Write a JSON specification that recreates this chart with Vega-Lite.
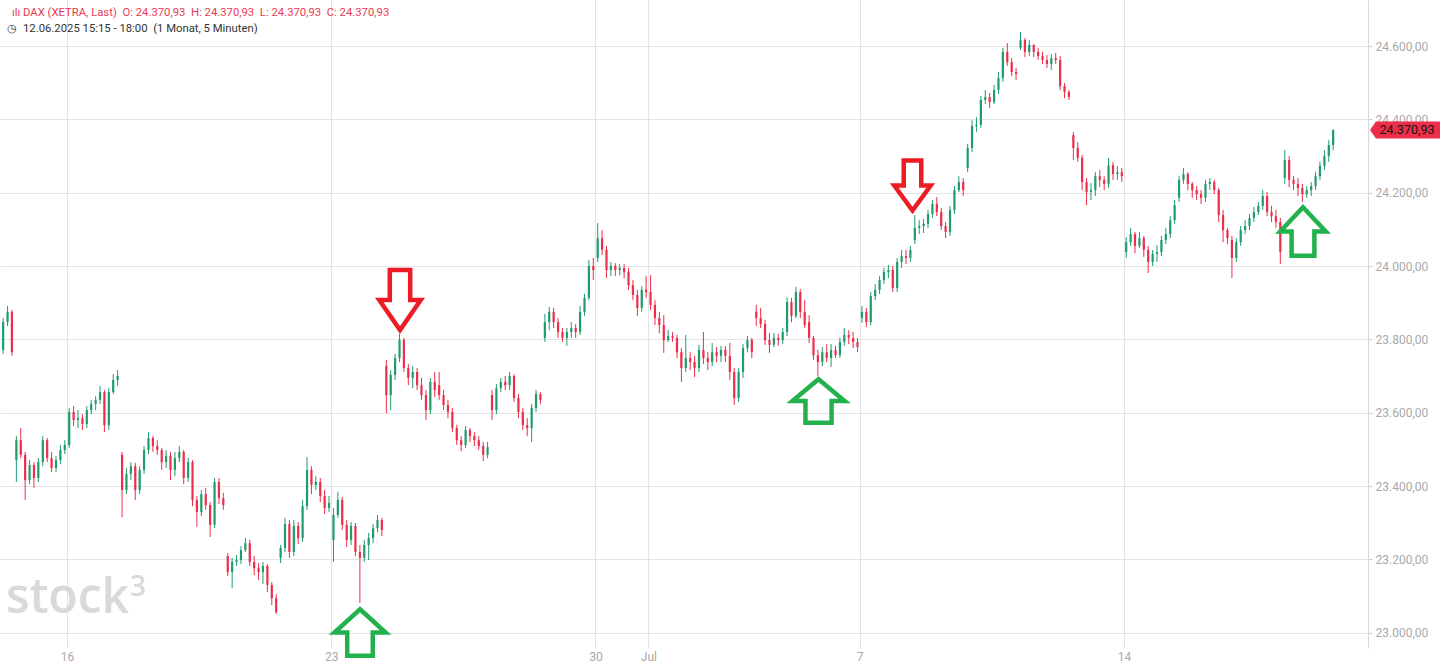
{
  "$schema": "https://vega.github.io/schema/vega-lite/v6.json",
  "width": 1368,
  "height": 648,
  "autosize": {"type": "none"},
  "padding": {"left": 0, "top": 0, "right": 72, "bottom": 19},
  "background": "white",
  "config": {"view": {"stroke": null}, "font": "Roboto"},
  "datasets": {
    "candles": [
      {"t":-1.292,"o":23755,"h":23782,"l":23749,"c":23771},
      {"t":-1.208,"o":23771,"h":23858,"l":23760,"c":23847},
      {"t":-1.125,"o":23847,"h":23891,"l":23836,"c":23875},
      {"t":-1.042,"o":23875,"h":23880,"l":23755,"c":23765},
      {"t":-0.958,"o":23471,"h":23536,"l":23411,"c":23525},
      {"t":-0.875,"o":23525,"h":23558,"l":23476,"c":23485},
      {"t":-0.792,"o":23485,"h":23493,"l":23362,"c":23416},
      {"t":-0.708,"o":23416,"h":23471,"l":23405,"c":23457},
      {"t":-0.625,"o":23457,"h":23465,"l":23395,"c":23422},
      {"t":-0.542,"o":23422,"h":23476,"l":23411,"c":23465},
      {"t":-0.458,"o":23465,"h":23536,"l":23454,"c":23525},
      {"t":-0.375,"o":23525,"h":23531,"l":23465,"c":23476},
      {"t":-0.292,"o":23476,"h":23493,"l":23438,"c":23449},
      {"t":-0.208,"o":23449,"h":23482,"l":23438,"c":23471},
      {"t":-0.125,"o":23471,"h":23512,"l":23460,"c":23498},
      {"t":-0.042,"o":23498,"h":23525,"l":23487,"c":23512},
      {"t":0.042,"o":23512,"h":23613,"l":23504,"c":23602},
      {"t":0.125,"o":23602,"h":23618,"l":23564,"c":23580},
      {"t":0.208,"o":23580,"h":23607,"l":23558,"c":23585},
      {"t":0.292,"o":23585,"h":23596,"l":23553,"c":23569},
      {"t":0.375,"o":23569,"h":23618,"l":23558,"c":23607},
      {"t":0.458,"o":23607,"h":23635,"l":23596,"c":23624},
      {"t":0.542,"o":23624,"h":23645,"l":23607,"c":23635},
      {"t":0.625,"o":23635,"h":23673,"l":23624,"c":23656},
      {"t":0.708,"o":23656,"h":23662,"l":23547,"c":23566},
      {"t":0.792,"o":23566,"h":23667,"l":23553,"c":23656},
      {"t":0.875,"o":23656,"h":23705,"l":23651,"c":23689},
      {"t":0.958,"o":23689,"h":23716,"l":23673,"c":23700},
      {"t":1.042,"o":23485,"h":23493,"l":23315,"c":23389},
      {"t":1.125,"o":23389,"h":23449,"l":23378,"c":23433},
      {"t":1.208,"o":23433,"h":23465,"l":23416,"c":23454},
      {"t":1.292,"o":23454,"h":23463,"l":23362,"c":23389},
      {"t":1.375,"o":23389,"h":23454,"l":23378,"c":23444},
      {"t":1.458,"o":23444,"h":23509,"l":23433,"c":23498},
      {"t":1.542,"o":23498,"h":23547,"l":23487,"c":23531},
      {"t":1.625,"o":23531,"h":23536,"l":23493,"c":23509},
      {"t":1.708,"o":23509,"h":23525,"l":23485,"c":23498},
      {"t":1.792,"o":23498,"h":23504,"l":23444,"c":23465},
      {"t":1.875,"o":23465,"h":23498,"l":23449,"c":23482},
      {"t":1.958,"o":23482,"h":23493,"l":23416,"c":23444},
      {"t":2.042,"o":23444,"h":23493,"l":23427,"c":23476},
      {"t":2.125,"o":23476,"h":23509,"l":23465,"c":23493},
      {"t":2.208,"o":23493,"h":23498,"l":23405,"c":23422},
      {"t":2.292,"o":23422,"h":23476,"l":23411,"c":23465},
      {"t":2.375,"o":23465,"h":23471,"l":23345,"c":23362},
      {"t":2.458,"o":23362,"h":23373,"l":23288,"c":23329},
      {"t":2.542,"o":23329,"h":23389,"l":23318,"c":23378},
      {"t":2.625,"o":23378,"h":23395,"l":23335,"c":23348},
      {"t":2.708,"o":23348,"h":23356,"l":23261,"c":23294},
      {"t":2.792,"o":23294,"h":23422,"l":23285,"c":23411},
      {"t":2.875,"o":23411,"h":23422,"l":23351,"c":23367},
      {"t":2.958,"o":23367,"h":23381,"l":23335,"c":23348},
      {"t":3.042,"o":23209,"h":23217,"l":23154,"c":23165},
      {"t":3.125,"o":23165,"h":23204,"l":23122,"c":23193},
      {"t":3.208,"o":23193,"h":23212,"l":23182,"c":23198},
      {"t":3.292,"o":23198,"h":23236,"l":23187,"c":23225},
      {"t":3.375,"o":23225,"h":23258,"l":23220,"c":23244},
      {"t":3.458,"o":23244,"h":23253,"l":23182,"c":23193},
      {"t":3.542,"o":23193,"h":23209,"l":23157,"c":23176},
      {"t":3.625,"o":23176,"h":23190,"l":23144,"c":23165},
      {"t":3.708,"o":23165,"h":23193,"l":23133,"c":23182},
      {"t":3.792,"o":23182,"h":23187,"l":23111,"c":23130},
      {"t":3.875,"o":23130,"h":23138,"l":23075,"c":23094},
      {"t":3.958,"o":23094,"h":23105,"l":23051,"c":23056},
      {"t":4.042,"o":23204,"h":23239,"l":23190,"c":23231},
      {"t":4.125,"o":23231,"h":23313,"l":23220,"c":23296},
      {"t":4.208,"o":23296,"h":23307,"l":23204,"c":23220},
      {"t":4.292,"o":23220,"h":23307,"l":23209,"c":23291},
      {"t":4.375,"o":23291,"h":23302,"l":23242,"c":23258},
      {"t":4.458,"o":23258,"h":23362,"l":23247,"c":23345},
      {"t":4.542,"o":23345,"h":23479,"l":23335,"c":23444},
      {"t":4.625,"o":23444,"h":23454,"l":23378,"c":23403},
      {"t":4.708,"o":23403,"h":23427,"l":23389,"c":23411},
      {"t":4.792,"o":23411,"h":23422,"l":23356,"c":23373},
      {"t":4.875,"o":23373,"h":23389,"l":23324,"c":23340},
      {"t":4.958,"o":23340,"h":23373,"l":23329,"c":23354},
      {"t":5.042,"o":23253,"h":23340,"l":23193,"c":23321},
      {"t":5.125,"o":23321,"h":23384,"l":23313,"c":23362},
      {"t":5.208,"o":23362,"h":23370,"l":23280,"c":23294},
      {"t":5.292,"o":23294,"h":23307,"l":23234,"c":23253},
      {"t":5.375,"o":23253,"h":23302,"l":23239,"c":23291},
      {"t":5.458,"o":23291,"h":23299,"l":23209,"c":23220},
      {"t":5.542,"o":23220,"h":23239,"l":23081,"c":23204},
      {"t":5.625,"o":23204,"h":23253,"l":23193,"c":23239},
      {"t":5.708,"o":23239,"h":23272,"l":23198,"c":23258},
      {"t":5.792,"o":23258,"h":23296,"l":23244,"c":23285},
      {"t":5.875,"o":23285,"h":23321,"l":23274,"c":23307},
      {"t":5.958,"o":23307,"h":23313,"l":23263,"c":23280},
      {"t":6.042,"o":23727,"h":23744,"l":23599,"c":23648},
      {"t":6.125,"o":23648,"h":23716,"l":23607,"c":23703},
      {"t":6.208,"o":23703,"h":23760,"l":23689,"c":23749},
      {"t":6.292,"o":23749,"h":23815,"l":23738,"c":23798},
      {"t":6.375,"o":23798,"h":23804,"l":23711,"c":23722},
      {"t":6.458,"o":23722,"h":23733,"l":23675,"c":23695},
      {"t":6.542,"o":23695,"h":23727,"l":23667,"c":23711},
      {"t":6.625,"o":23711,"h":23722,"l":23662,"c":23675},
      {"t":6.708,"o":23675,"h":23695,"l":23635,"c":23648},
      {"t":6.792,"o":23648,"h":23662,"l":23580,"c":23607},
      {"t":6.875,"o":23607,"h":23695,"l":23596,"c":23684},
      {"t":6.958,"o":23684,"h":23711,"l":23643,"c":23662},
      {"t":7.042,"o":23675,"h":23711,"l":23635,"c":23648},
      {"t":7.125,"o":23648,"h":23662,"l":23607,"c":23621},
      {"t":7.208,"o":23621,"h":23635,"l":23585,"c":23602},
      {"t":7.292,"o":23602,"h":23613,"l":23547,"c":23558},
      {"t":7.375,"o":23558,"h":23566,"l":23512,"c":23525},
      {"t":7.458,"o":23525,"h":23536,"l":23495,"c":23512},
      {"t":7.542,"o":23512,"h":23564,"l":23504,"c":23553},
      {"t":7.625,"o":23553,"h":23558,"l":23520,"c":23536},
      {"t":7.708,"o":23536,"h":23547,"l":23509,"c":23525},
      {"t":7.792,"o":23525,"h":23536,"l":23498,"c":23509},
      {"t":7.875,"o":23509,"h":23520,"l":23468,"c":23485},
      {"t":7.958,"o":23485,"h":23520,"l":23476,"c":23506},
      {"t":8.042,"o":23648,"h":23662,"l":23580,"c":23607},
      {"t":8.125,"o":23607,"h":23678,"l":23596,"c":23667},
      {"t":8.208,"o":23667,"h":23695,"l":23656,"c":23684},
      {"t":8.292,"o":23684,"h":23700,"l":23662,"c":23675},
      {"t":8.375,"o":23675,"h":23711,"l":23662,"c":23700},
      {"t":8.458,"o":23700,"h":23705,"l":23629,"c":23640},
      {"t":8.542,"o":23640,"h":23651,"l":23585,"c":23602},
      {"t":8.625,"o":23602,"h":23613,"l":23553,"c":23566},
      {"t":8.708,"o":23566,"h":23585,"l":23536,"c":23558},
      {"t":8.792,"o":23558,"h":23624,"l":23520,"c":23613},
      {"t":8.875,"o":23613,"h":23662,"l":23602,"c":23651},
      {"t":8.958,"o":23651,"h":23656,"l":23624,"c":23635},
      {"t":9.042,"o":23804,"h":23869,"l":23793,"c":23847},
      {"t":9.125,"o":23847,"h":23888,"l":23825,"c":23875},
      {"t":9.208,"o":23875,"h":23886,"l":23831,"c":23847},
      {"t":9.292,"o":23847,"h":23858,"l":23804,"c":23820},
      {"t":9.375,"o":23820,"h":23831,"l":23793,"c":23804},
      {"t":9.458,"o":23804,"h":23831,"l":23782,"c":23820},
      {"t":9.542,"o":23820,"h":23847,"l":23804,"c":23831},
      {"t":9.625,"o":23831,"h":23842,"l":23804,"c":23820},
      {"t":9.708,"o":23820,"h":23891,"l":23812,"c":23875},
      {"t":9.792,"o":23875,"h":23924,"l":23864,"c":23913},
      {"t":9.875,"o":23913,"h":24016,"l":23907,"c":24000},
      {"t":9.958,"o":24000,"h":24022,"l":23962,"c":23989},
      {"t":10.042,"o":24022,"h":24117,"l":24011,"c":24076},
      {"t":10.125,"o":24076,"h":24098,"l":24030,"c":24044},
      {"t":10.208,"o":24044,"h":24055,"l":23967,"c":23989},
      {"t":10.292,"o":23989,"h":24011,"l":23973,"c":24000},
      {"t":10.375,"o":24000,"h":24008,"l":23973,"c":23989},
      {"t":10.458,"o":23989,"h":24005,"l":23975,"c":23995},
      {"t":10.542,"o":23995,"h":24005,"l":23967,"c":23984},
      {"t":10.625,"o":23984,"h":23995,"l":23935,"c":23948},
      {"t":10.708,"o":23948,"h":23962,"l":23907,"c":23921},
      {"t":10.792,"o":23921,"h":23935,"l":23864,"c":23886},
      {"t":10.875,"o":23886,"h":23945,"l":23875,"c":23935},
      {"t":10.958,"o":23935,"h":23973,"l":23913,"c":23929},
      {"t":11.042,"o":23929,"h":23975,"l":23880,"c":23894},
      {"t":11.125,"o":23894,"h":23907,"l":23839,"c":23858},
      {"t":11.208,"o":23858,"h":23875,"l":23817,"c":23839},
      {"t":11.292,"o":23839,"h":23866,"l":23763,"c":23798},
      {"t":11.375,"o":23798,"h":23825,"l":23793,"c":23809},
      {"t":11.458,"o":23809,"h":23820,"l":23793,"c":23804},
      {"t":11.542,"o":23804,"h":23812,"l":23749,"c":23765},
      {"t":11.625,"o":23765,"h":23776,"l":23684,"c":23722},
      {"t":11.708,"o":23722,"h":23812,"l":23711,"c":23749},
      {"t":11.792,"o":23749,"h":23765,"l":23716,"c":23738},
      {"t":11.875,"o":23738,"h":23755,"l":23697,"c":23722},
      {"t":11.958,"o":23722,"h":23785,"l":23711,"c":23771},
      {"t":12.042,"o":23771,"h":23820,"l":23733,"c":23749},
      {"t":12.125,"o":23749,"h":23765,"l":23716,"c":23738},
      {"t":12.208,"o":23738,"h":23790,"l":23727,"c":23765},
      {"t":12.292,"o":23765,"h":23779,"l":23738,"c":23755},
      {"t":12.375,"o":23755,"h":23782,"l":23738,"c":23771},
      {"t":12.458,"o":23771,"h":23782,"l":23738,"c":23755},
      {"t":12.542,"o":23755,"h":23790,"l":23689,"c":23711},
      {"t":12.625,"o":23711,"h":23722,"l":23621,"c":23640},
      {"t":12.708,"o":23640,"h":23722,"l":23629,"c":23711},
      {"t":12.792,"o":23711,"h":23787,"l":23695,"c":23776},
      {"t":12.875,"o":23776,"h":23809,"l":23765,"c":23798},
      {"t":12.958,"o":23798,"h":23804,"l":23749,"c":23765},
      {"t":13.042,"o":23875,"h":23894,"l":23836,"c":23858},
      {"t":13.125,"o":23858,"h":23886,"l":23831,"c":23842},
      {"t":13.208,"o":23842,"h":23853,"l":23785,"c":23798},
      {"t":13.292,"o":23798,"h":23817,"l":23763,"c":23785},
      {"t":13.375,"o":23785,"h":23817,"l":23779,"c":23804},
      {"t":13.458,"o":23804,"h":23815,"l":23782,"c":23798},
      {"t":13.542,"o":23798,"h":23831,"l":23787,"c":23820},
      {"t":13.625,"o":23820,"h":23915,"l":23809,"c":23902},
      {"t":13.708,"o":23902,"h":23913,"l":23847,"c":23864},
      {"t":13.792,"o":23864,"h":23943,"l":23858,"c":23929},
      {"t":13.875,"o":23929,"h":23937,"l":23858,"c":23875},
      {"t":13.958,"o":23875,"h":23907,"l":23831,"c":23839},
      {"t":14.042,"o":23847,"h":23866,"l":23790,"c":23804},
      {"t":14.125,"o":23804,"h":23809,"l":23744,"c":23757},
      {"t":14.208,"o":23757,"h":23771,"l":23700,"c":23738},
      {"t":14.292,"o":23738,"h":23779,"l":23727,"c":23765},
      {"t":14.375,"o":23765,"h":23787,"l":23738,"c":23749},
      {"t":14.458,"o":23749,"h":23787,"l":23725,"c":23771},
      {"t":14.542,"o":23771,"h":23782,"l":23749,"c":23757},
      {"t":14.625,"o":23757,"h":23804,"l":23749,"c":23793},
      {"t":14.708,"o":23793,"h":23831,"l":23782,"c":23812},
      {"t":14.792,"o":23812,"h":23825,"l":23787,"c":23804},
      {"t":14.875,"o":23804,"h":23820,"l":23776,"c":23793},
      {"t":14.958,"o":23793,"h":23804,"l":23765,"c":23779},
      {"t":15.042,"o":23858,"h":23891,"l":23845,"c":23875},
      {"t":15.125,"o":23875,"h":23886,"l":23834,"c":23847},
      {"t":15.208,"o":23847,"h":23929,"l":23839,"c":23918},
      {"t":15.292,"o":23918,"h":23951,"l":23907,"c":23935},
      {"t":15.375,"o":23935,"h":23973,"l":23924,"c":23962},
      {"t":15.458,"o":23962,"h":23995,"l":23951,"c":23984},
      {"t":15.542,"o":23984,"h":24003,"l":23967,"c":23989},
      {"t":15.625,"o":23989,"h":24000,"l":23929,"c":23940},
      {"t":15.708,"o":23940,"h":24022,"l":23929,"c":24011},
      {"t":15.792,"o":24011,"h":24044,"l":23995,"c":24027},
      {"t":15.875,"o":24027,"h":24044,"l":24005,"c":24022},
      {"t":15.958,"o":24022,"h":24055,"l":24011,"c":24044},
      {"t":16.042,"o":24071,"h":24139,"l":24060,"c":24104},
      {"t":16.125,"o":24104,"h":24125,"l":24087,"c":24109},
      {"t":16.208,"o":24109,"h":24128,"l":24090,"c":24115},
      {"t":16.292,"o":24115,"h":24153,"l":24104,"c":24142},
      {"t":16.375,"o":24142,"h":24180,"l":24131,"c":24169},
      {"t":16.458,"o":24169,"h":24188,"l":24136,"c":24147},
      {"t":16.542,"o":24147,"h":24158,"l":24098,"c":24109},
      {"t":16.625,"o":24109,"h":24120,"l":24076,"c":24093},
      {"t":16.708,"o":24093,"h":24164,"l":24082,"c":24153},
      {"t":16.792,"o":24153,"h":24218,"l":24142,"c":24207},
      {"t":16.875,"o":24207,"h":24245,"l":24202,"c":24229},
      {"t":16.958,"o":24229,"h":24240,"l":24191,"c":24207},
      {"t":17.042,"o":24267,"h":24333,"l":24256,"c":24322},
      {"t":17.125,"o":24322,"h":24398,"l":24311,"c":24382},
      {"t":17.208,"o":24382,"h":24406,"l":24365,"c":24385},
      {"t":17.292,"o":24385,"h":24464,"l":24376,"c":24453},
      {"t":17.375,"o":24453,"h":24480,"l":24442,"c":24461},
      {"t":17.458,"o":24461,"h":24472,"l":24431,"c":24447},
      {"t":17.542,"o":24447,"h":24494,"l":24442,"c":24480},
      {"t":17.625,"o":24480,"h":24529,"l":24469,"c":24513},
      {"t":17.708,"o":24513,"h":24595,"l":24502,"c":24584},
      {"t":17.792,"o":24584,"h":24608,"l":24546,"c":24556},
      {"t":17.875,"o":24556,"h":24567,"l":24518,"c":24529},
      {"t":17.958,"o":24529,"h":24540,"l":24507,"c":24524},
      {"t":18.042,"o":24595,"h":24638,"l":24589,"c":24616},
      {"t":18.125,"o":24616,"h":24622,"l":24570,"c":24584},
      {"t":18.208,"o":24584,"h":24616,"l":24573,"c":24603},
      {"t":18.292,"o":24603,"h":24605,"l":24570,"c":24584},
      {"t":18.375,"o":24584,"h":24595,"l":24562,"c":24573},
      {"t":18.458,"o":24573,"h":24584,"l":24551,"c":24562},
      {"t":18.542,"o":24562,"h":24575,"l":24540,"c":24551},
      {"t":18.625,"o":24551,"h":24578,"l":24535,"c":24567},
      {"t":18.708,"o":24567,"h":24581,"l":24551,"c":24562},
      {"t":18.792,"o":24562,"h":24573,"l":24480,"c":24491},
      {"t":18.875,"o":24491,"h":24499,"l":24458,"c":24475},
      {"t":18.958,"o":24475,"h":24480,"l":24453,"c":24461},
      {"t":19.042,"o":24357,"h":24365,"l":24289,"c":24322},
      {"t":19.125,"o":24322,"h":24338,"l":24284,"c":24295},
      {"t":19.208,"o":24295,"h":24303,"l":24207,"c":24229},
      {"t":19.292,"o":24229,"h":24240,"l":24166,"c":24202},
      {"t":19.375,"o":24202,"h":24226,"l":24180,"c":24207},
      {"t":19.458,"o":24207,"h":24256,"l":24191,"c":24245},
      {"t":19.542,"o":24245,"h":24262,"l":24215,"c":24235},
      {"t":19.625,"o":24235,"h":24245,"l":24207,"c":24224},
      {"t":19.708,"o":24224,"h":24295,"l":24213,"c":24275},
      {"t":19.792,"o":24275,"h":24284,"l":24235,"c":24251},
      {"t":19.875,"o":24251,"h":24273,"l":24235,"c":24256},
      {"t":19.958,"o":24256,"h":24267,"l":24229,"c":24245},
      {"t":20.042,"o":24038,"h":24079,"l":24022,"c":24065},
      {"t":20.125,"o":24065,"h":24104,"l":24055,"c":24087},
      {"t":20.208,"o":24087,"h":24093,"l":24035,"c":24055},
      {"t":20.292,"o":24055,"h":24093,"l":24049,"c":24076},
      {"t":20.375,"o":24076,"h":24082,"l":24025,"c":24044},
      {"t":20.458,"o":24044,"h":24055,"l":23981,"c":24011},
      {"t":20.542,"o":24011,"h":24044,"l":24000,"c":24033},
      {"t":20.625,"o":24033,"h":24057,"l":24011,"c":24038},
      {"t":20.708,"o":24038,"h":24082,"l":24027,"c":24071},
      {"t":20.792,"o":24071,"h":24104,"l":24060,"c":24087},
      {"t":20.875,"o":24087,"h":24136,"l":24076,"c":24125},
      {"t":20.958,"o":24125,"h":24180,"l":24115,"c":24166},
      {"t":21.042,"o":24186,"h":24245,"l":24175,"c":24235},
      {"t":21.125,"o":24235,"h":24267,"l":24224,"c":24251},
      {"t":21.208,"o":24251,"h":24256,"l":24207,"c":24224},
      {"t":21.292,"o":24224,"h":24229,"l":24186,"c":24207},
      {"t":21.375,"o":24207,"h":24218,"l":24180,"c":24196},
      {"t":21.458,"o":24196,"h":24207,"l":24169,"c":24186},
      {"t":21.542,"o":24186,"h":24235,"l":24175,"c":24224},
      {"t":21.625,"o":24224,"h":24240,"l":24207,"c":24229},
      {"t":21.708,"o":24229,"h":24235,"l":24196,"c":24207},
      {"t":21.792,"o":24207,"h":24213,"l":24120,"c":24139},
      {"t":21.875,"o":24139,"h":24153,"l":24065,"c":24098},
      {"t":21.958,"o":24098,"h":24104,"l":24060,"c":24076},
      {"t":22.042,"o":24071,"h":24082,"l":23967,"c":24022},
      {"t":22.125,"o":24022,"h":24076,"l":24011,"c":24065},
      {"t":22.208,"o":24065,"h":24109,"l":24055,"c":24098},
      {"t":22.292,"o":24098,"h":24125,"l":24087,"c":24109},
      {"t":22.375,"o":24109,"h":24142,"l":24098,"c":24131},
      {"t":22.458,"o":24131,"h":24161,"l":24120,"c":24147},
      {"t":22.542,"o":24147,"h":24175,"l":24139,"c":24164},
      {"t":22.625,"o":24164,"h":24207,"l":24153,"c":24191},
      {"t":22.708,"o":24191,"h":24202,"l":24136,"c":24147},
      {"t":22.792,"o":24147,"h":24164,"l":24120,"c":24136},
      {"t":22.875,"o":24136,"h":24153,"l":24104,"c":24120},
      {"t":22.958,"o":24120,"h":24131,"l":24005,"c":24038},
      {"t":23.042,"o":24240,"h":24316,"l":24224,"c":24289},
      {"t":23.125,"o":24289,"h":24300,"l":24215,"c":24235},
      {"t":23.208,"o":24235,"h":24245,"l":24207,"c":24224},
      {"t":23.292,"o":24224,"h":24240,"l":24191,"c":24213},
      {"t":23.375,"o":24213,"h":24224,"l":24175,"c":24196},
      {"t":23.458,"o":24196,"h":24218,"l":24186,"c":24207},
      {"t":23.542,"o":24207,"h":24229,"l":24191,"c":24218},
      {"t":23.625,"o":24218,"h":24256,"l":24207,"c":24245},
      {"t":23.708,"o":24245,"h":24284,"l":24235,"c":24273},
      {"t":23.792,"o":24273,"h":24316,"l":24262,"c":24300},
      {"t":23.875,"o":24300,"h":24344,"l":24284,"c":24330},
      {"t":23.958,"o":24330,"h":24373,"l":24316,"c":24370.93}
    ]
  },
  "encoding": {
    "x": {"field": "t", "type": "quantitative", "scale": {"domain": [-1.2677, 24.617], "nice": false, "zero": false},
      "axis": {"orient": "bottom", "values": [0, 5, 10, 11, 15, 20], "grid": true, "gridColor": "#e3e3e8", "gridWidth": 1, "domain": false, "ticks": false, "labelColor": "#a9a9a9", "labelFontSize": 12, "labelFont": "Roboto", "labelPadding": 3, "title": null,
        "labelExpr": "datum.value == 0 ? '16' : datum.value == 5 ? '23' : datum.value == 10 ? '30' : datum.value == 11 ? 'Jul' : datum.value == 15 ? '7' : '14'"}},
    "y": {"field": "p", "type": "quantitative", "scale": {"domain": [22958.2, 24725.5], "nice": false, "zero": false},
      "axis": {"orient": "right", "values": [23000, 23200, 23400, 23600, 23800, 24000, 24200, 24400, 24600], "grid": true, "gridColor": "#e3e3e8", "gridWidth": 1, "domain": true, "domainColor": "#d6d6de", "ticks": true, "tickSize": 4, "tickColor": "#cfcfd6", "labelColor": "#a9a9a9", "labelFontSize": 12, "labelFont": "Roboto", "labelPadding": 3, "title": null,
        "labelExpr": "replace(replace(replace(format(datum.value, ',.2f'), ',', '#'), '.', ','), '#', '.')"}}
  },
  "layer": [
    {
      "data": {"values": [{"t": -1.154, "p": 23054, "s": "stock"}]},
      "mark": {"type": "text", "align": "left", "baseline": "alphabetic", "font": "Open Sans", "fontSize": 48, "fontWeight": 600, "color": "#d9d9d9"},
      "encoding": {"text": {"field": "s"}}
    },
    {
      "data": {"values": [{"t": 1.19, "p": 23100, "s": "3"}]},
      "mark": {"type": "text", "align": "left", "baseline": "alphabetic", "font": "Open Sans", "fontSize": 28, "fontWeight": 600, "color": "#d9d9d9"},
      "encoding": {"text": {"field": "s"}}
    },
    {
      "data": {"name": "candles"},
      "mark": {"type": "rule", "strokeWidth": 1},
      "encoding": {
        "y": {"field": "l", "type": "quantitative", "scale": {"domain": [22958.2, 24725.5], "nice": false, "zero": false},
          "axis": {"orient": "right", "values": [23000, 23200, 23400, 23600, 23800, 24000, 24200, 24400, 24600], "grid": true, "gridColor": "#e3e3e8", "gridWidth": 1, "domain": true, "domainColor": "#d6d6de", "ticks": true, "tickSize": 4, "tickColor": "#cfcfd6", "labelColor": "#a9a9a9", "labelFontSize": 12, "labelFont": "Roboto", "labelPadding": 3, "title": null,
            "labelExpr": "replace(replace(replace(format(datum.value, ',.2f'), ',', '#'), '.', ','), '#', '.')"}},
        "y2": {"field": "h"},
        "color": {"condition": {"test": "datum.c >= datum.o", "value": "#1f9c6d"}, "value": "#ec2e4a"}
      }
    },
    {
      "data": {"name": "candles"},
      "mark": {"type": "rule", "strokeWidth": 2.2},
      "encoding": {
        "y": {"field": "o", "type": "quantitative", "scale": {"domain": [22958.2, 24725.5], "nice": false, "zero": false},
          "axis": {"orient": "right", "values": [23000, 23200, 23400, 23600, 23800, 24000, 24200, 24400, 24600], "grid": true, "gridColor": "#e3e3e8", "gridWidth": 1, "domain": true, "domainColor": "#d6d6de", "ticks": true, "tickSize": 4, "tickColor": "#cfcfd6", "labelColor": "#a9a9a9", "labelFontSize": 12, "labelFont": "Roboto", "labelPadding": 3, "title": null,
            "labelExpr": "replace(replace(replace(format(datum.value, ',.2f'), ',', '#'), '.', ','), '#', '.')"}},
        "y2": {"field": "c"},
        "color": {"condition": {"test": "datum.c >= datum.o", "value": "#1f9c6d"}, "value": "#ec2e4a"}
      }
    },
    {
      "data": {"values": [
        {"t": -1.0407, "p": 24690, "s": "ılı"},
        {"t": -0.8325, "p": 24690, "s": "DAX (XETRA, Last)\u00a0\u00a0O: 24.370,93\u00a0\u00a0H: 24.370,93\u00a0\u00a0L: 24.370,93\u00a0\u00a0C: 24.370,93"}
      ]},
      "mark": {"type": "text", "align": "left", "baseline": "middle", "font": "Roboto", "fontSize": 11.3, "color": "#e93a52"},
      "encoding": {"text": {"field": "s"}}
    },
    {
      "data": {"values": [
        {"t": -1.13, "p": 24646.4, "s": "◷"},
        {"t": -0.8325, "p": 24646.4, "s": "12.06.2025 15:15 - 18:00\u00a0\u00a0(1 Monat, 5 Minuten)"}
      ]},
      "mark": {"type": "text", "align": "left", "baseline": "middle", "font": "Roboto", "fontSize": 11.3, "color": "#333333"},
      "encoding": {"text": {"field": "s"}}
    },
    {
      "data": {"values": [{"t": 6.301, "p": 23907}]},
      "mark": {"type": "point", "shape": "M-0.34,-1 L0.34,-1 L0.34,0 L0.69,0 L0,1 L-0.69,0 L-0.34,0 Z", "filled": false, "stroke": "#ed1c24", "strokeWidth": 4.5, "strokeJoin": "miter", "size": 3600, "opacity": 1}
    },
    {
      "data": {"values": [{"t": 15.998, "p": 24219.6}]},
      "mark": {"type": "point", "shape": "M-0.35,-1 L0.35,-1 L0.35,0 L0.73,0 L0,1 L-0.73,0 L-0.35,0 Z", "filled": false, "stroke": "#ed1c24", "strokeWidth": 4.5, "strokeJoin": "miter", "size": 2500, "opacity": 1}
    },
    {
      "data": {"values": [{"t": 5.544, "p": 23000.5}]},
      "mark": {"type": "point", "shape": "M0,-1 L1.1,0 L0.55,0 L0.55,1 L-0.55,1 L-0.55,0 L-1.1,0 Z", "filled": false, "stroke": "#22b14c", "strokeWidth": 4.5, "strokeJoin": "miter", "size": 2162, "opacity": 1}
    },
    {
      "data": {"values": [{"t": 14.22, "p": 23631.9}]},
      "mark": {"type": "point", "shape": "M0,-1 L1.2,0 L0.6,0 L0.6,1 L-0.6,1 L-0.6,0 L-1.2,0 Z", "filled": false, "stroke": "#22b14c", "strokeWidth": 4.5, "strokeJoin": "miter", "size": 1892, "opacity": 1}
    },
    {
      "data": {"values": [{"t": 23.387, "p": 24094.1}]},
      "mark": {"type": "point", "shape": "M0,-1 L0.94,0 L0.47,0 L0.47,1 L-0.47,1 L-0.47,0 L-0.94,0 Z", "filled": false, "stroke": "#22b14c", "strokeWidth": 4.5, "strokeJoin": "miter", "size": 2352, "opacity": 1}
    },
    {
      "data": {"values": [{"t": 25.317, "p": 24370.93}]},
      "mark": {"type": "point", "shape": "M-1,0 L-0.83,-0.24 L1.05,-0.24 L1.05,0.24 L-0.83,0.24 Z", "filled": true, "fill": "#ee2f4b", "strokeWidth": 0, "size": 4900, "opacity": 1}
    },
    {
      "data": {"values": [{"t": 25.317, "p": 24370.93, "s": "24.370,93"}]},
      "mark": {"type": "text", "align": "center", "baseline": "middle", "dx": 2, "font": "Roboto", "fontSize": 12.5, "color": "#151515"},
      "encoding": {"text": {"field": "s"}}
    }
  ]
}
